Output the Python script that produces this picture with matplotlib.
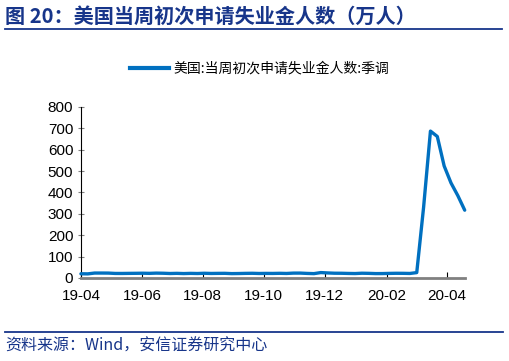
import numpy as np
import matplotlib
matplotlib.use("Agg")
import matplotlib.pyplot as plt
from matplotlib.lines import Line2D

plt.rcParams['font.family'] = ['Liberation Sans', 'Noto Sans CJK SC', 'DejaVu Sans']

# weekly initial jobless claims, SA (10k persons), 2019-04-06 .. 2020-05-02
claims = [19.6, 19.2, 23.0, 23.0, 22.8, 21.2, 21.1, 21.5, 21.8, 22.2,
          21.6, 22.7, 22.1, 20.9, 21.6, 20.6, 21.5, 20.9, 22.0, 21.1,
          21.5, 21.7, 20.4, 20.8, 21.5, 21.9, 21.0, 21.4, 21.2, 21.8,
          21.1, 22.7, 22.8, 21.3, 20.3, 25.2, 23.5, 22.2, 22.0, 21.2,
          20.7, 22.2, 21.6, 20.5, 20.6, 21.4, 21.9, 21.7, 21.1, 25.1,
          330.7, 686.7, 661.5, 523.7, 444.2, 384.6, 316.9]
tick_labels = ["19-04", "19-06", "19-08", "19-10", "19-12", "20-02", "20-04"]
tick_days = [0, 61, 122, 183, 244, 306, 366]  # days after 2019-04-01
yticks = [0, 100, 200, 300, 400, 500, 600, 700, 800]

series_name = "美国:当周初次申请失业金人数:季调"
title = "图 20：美国当周初次申请失业金人数（万人）"
source = "资料来源：Wind，安信证券研究中心"

navy = "#17358a"
blue = "#0070c0"

fig = plt.figure(figsize=(5.09, 3.61), dpi=100)
ax = fig.add_axes([0.159, 0.230, 0.754, 0.474])

x = np.arange(len(claims))
step = 384 / 56  # pixels per week (1 px per day on the axis)
ax.plot(x, claims, color=blue, lw=2.4, solid_joinstyle='round',
        solid_capstyle='round', clip_on=False, zorder=3)

ax.set_xlim(0, 56)
ax.set_ylim(0, 800)
ax.set_xticks([d / step for d in tick_days])
ax.set_xticklabels(tick_labels)
ax.set_yticks(yticks)

for s in ["top", "right"]:
    ax.spines[s].set_visible(False)
ax.spines["left"].set_color("#000000")
ax.spines["left"].set_linewidth(0.8)
ax.spines["bottom"].set_color("#808080")
ax.spines["bottom"].set_linewidth(2)
ax.tick_params(axis="x", direction="in", length=4, color="#000000", width=0.8,
               labelsize=11, pad=8)
ax.tick_params(axis="y", direction="inout", length=5, color="#808080", width=0.8,
               labelsize=11, pad=3)

handle = Line2D([0], [0], color=blue, lw=3)
fig.legend([handle], [series_name], loc="center", bbox_to_anchor=(0.51, 0.81),
           frameon=False, handlelength=2.8, handletextpad=0.3,
           prop={'family': ['Noto Sans CJK SC'], 'size': 10})

fig.text(0.010, 0.955, title, color=navy, fontsize=14.5, fontweight="bold",
         family=['Noto Sans CJK SC'], va="center", ha="left")
fig.add_artist(Line2D([0.010, 0.986], [0.920, 0.920], color=navy, lw=1.3,
                      transform=fig.transFigure))
fig.add_artist(Line2D([0.010, 0.988], [0.080, 0.080], color=navy, lw=1.3,
                      transform=fig.transFigure))
fig.text(0.010, 0.040, source, color=navy, fontsize=11.5, style="italic",
         family=['Noto Sans CJK SC'], va="center", ha="left")

fig.savefig("out.png", dpi=100)
